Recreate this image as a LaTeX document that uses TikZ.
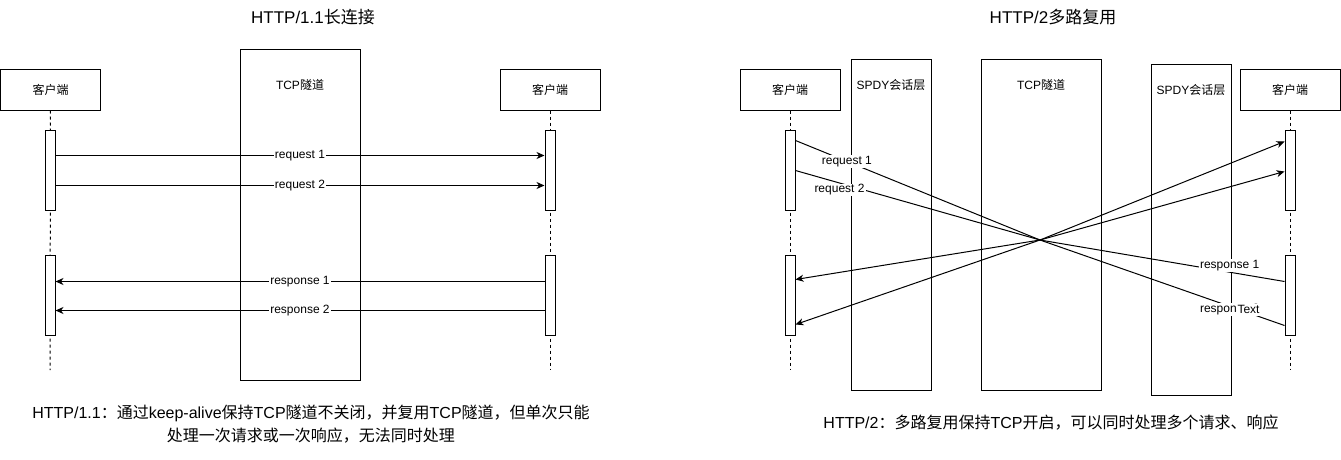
\documentclass[tikz,border=0pt]{standalone}
\usepackage{fontspec}
\setmainfont{Liberation Sans}
\newfontfamily\cjk{Noto Sans CJK SC}
\newcommand\zh[1]{{\cjk #1}}
\usetikzlibrary{arrows.meta}
\begin{document}
\begin{tikzpicture}[x=1pt,y=-1pt,
  box/.style={draw, line width=1pt, fill=white, inner sep=0pt, font=\fontsize{12}{14}\selectfont},
  actbox/.style={draw, line width=1pt, fill=white, minimum width=10pt, minimum height=80pt, inner sep=0pt},
  lifeline/.style={draw, line width=1pt, dash pattern=on 3pt off 3pt},
  msg/.style={draw, line width=1pt, -{Stealth[length=8pt,width=7pt,inset=2.5pt]}},
  lbl/.style={fill=white, inner sep=1pt, font=\fontsize{12}{14}\selectfont},
  txt/.style={inner sep=0pt, font=\fontsize{12}{14}\selectfont},
  ttl/.style={font=\fontsize{17}{20}\selectfont, inner sep=0pt},
  note/.style={font=\fontsize{16}{23}\selectfont, align=center, inner sep=0pt},
]
\useasboundingbox (0,0) rectangle (1341,460);
\fill[white] (0,0) rectangle (1341,460);

% ---------- titles ----------
\node[ttl] (t1) at (313,17) {HTTP/1.1\zh{长连接}};
\node[ttl] (t2) at (1053,17) {HTTP/2\zh{多路复用}};

% ---------- left diagram ----------
\node[box, minimum width=120pt, minimum height=330pt] (ltcp) at (300,215) {};
\node[txt] (ltcpt) at (300,85) {TCP\zh{隧道}};
\node[box, minimum width=100pt, minimum height=40pt] (lc) at (50.5,90) {\zh{客户端}};
\node[box, minimum width=100pt, minimum height=40pt] (rc) at (550,90) {\zh{客户端}};
\coordinate (lcend) at (50,370);
\coordinate (rcend) at (550,370);
\draw[lifeline] (lc.south) -- (lcend);
\draw[lifeline] (rc.south) -- (rcend);
\node[actbox] (la1) at (50,170) {};
\node[actbox] (la2) at (50,295) {};
\node[actbox] (ra1) at (550,170) {};
\node[actbox] (ra2) at (550,295) {};

\draw[msg] ([yshift=-26pt]la1.north east) -- node[lbl]{request 1} ([yshift=-26pt]ra1.north west);
\draw[msg] ([yshift=-56pt]la1.north east) -- node[lbl]{request 2} ([yshift=-56pt]ra1.north west);
\draw[msg] ([yshift=-27pt]ra2.north west) -- node[lbl]{response 1} ([yshift=-27pt]la2.north east);
\draw[msg] ([yshift=-56pt]ra2.north west) -- node[lbl]{response 2} ([yshift=-56pt]la2.north east);

\node[note] (n1) at (311,424.5) {HTTP/1.1\zh{：通过}keep-alive\zh{保持}TCP\zh{隧道不关闭，并复用}TCP\zh{隧道，但单次只能}\\\zh{处理一次请求或一次响应，无法同时处理}};

% ---------- right diagram ----------
\node[box, minimum width=80pt, minimum height=330pt] (sp1) at (891,225) {};
\node[txt] (sp1t) at (891,85) {SPDY\zh{会话层}};
\node[box, minimum width=120pt, minimum height=330pt] (tcp2) at (1041,225) {};
\node[txt] (tcp2t) at (1041,85) {TCP\zh{隧道}};
\node[box, minimum width=80pt, minimum height=330pt] (sp2) at (1191,230) {};
\node[txt] (sp2t) at (1191,90) {SPDY\zh{会话层}};
\node[box, minimum width=100pt, minimum height=40pt] (c2l) at (790,90) {\zh{客户端}};
\node[box, minimum width=100pt, minimum height=40pt] (c2r) at (1290,90) {\zh{客户端}};
\coordinate (c2lend) at (790,370);
\coordinate (c2rend) at (1290,370);
\draw[lifeline] (c2l.south) -- (c2lend);
\draw[lifeline] (c2r.south) -- (c2rend);
\node[actbox] (a2l1) at (790,170) {};
\node[actbox] (a2l2) at (790,295) {};
\node[actbox] (a2r1) at (1290,170) {};
\node[actbox] (a2r2) at (1290,295) {};
\coordinate (mux) at (1040,240);

\draw[msg] ([yshift=-11pt]a2l1.north east) -- node[lbl,pos=0.21]{request 1} (mux) -- ([yshift=-12pt]a2r1.north west);
\draw[msg] ([yshift=-41pt]a2l1.north east) -- node[lbl,pos=0.18,yshift=-7pt]{request 2} (mux) -- ([yshift=-42pt]a2r1.north west);
\draw[msg] ([yshift=-27pt]a2r2.north west) -- node[lbl,pos=0.224,yshift=6.5pt]{response 1} (mux) -- ([yshift=-25pt]a2l2.north east);
\draw[msg] ([yshift=-71pt]a2r2.north west) -- node[lbl,pos=0.224,yshift=-3pt]{response 2} (mux) -- ([yshift=-70pt]a2l2.north east);
\node[lbl, inner sep=0.5pt] (txtlbl) at (1248.5,309) {Text};

\node[note] (n2) at (1051,423) {HTTP/2\zh{：多路复用保持}TCP\zh{开启，可以同时处理多个请求、响应}};
\end{tikzpicture}
\end{document}
